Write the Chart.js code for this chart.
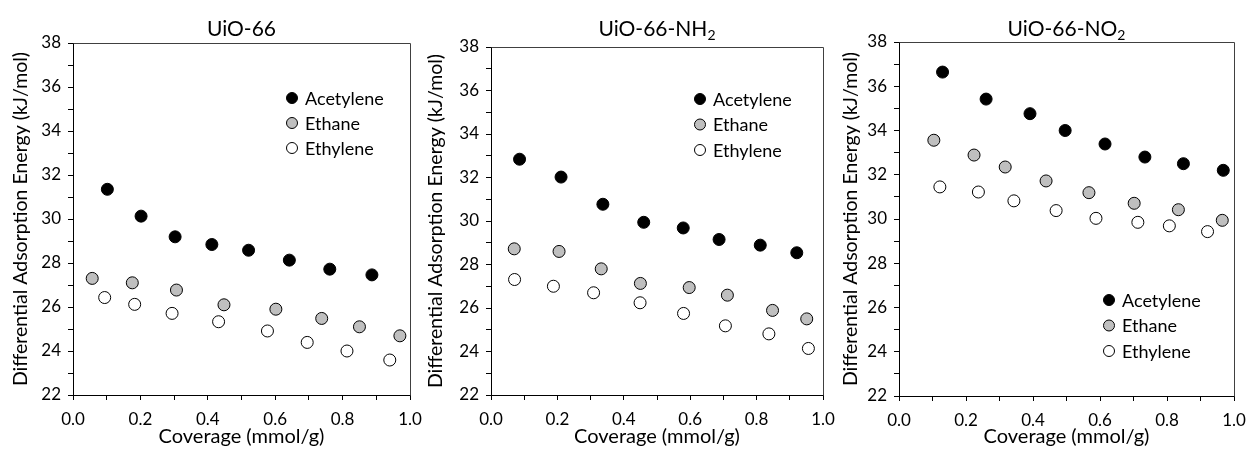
<!DOCTYPE html>
<html>
<head>
<meta charset="utf-8">
<script src="https://cdn.jsdelivr.net/npm/chart.js@4.4.1/dist/chart.umd.min.js"></script>
<style>
  body { margin: 0; background: #fff; }
  #wrap { position: relative; width: 1247px; height: 449px; overflow: hidden; }
  canvas { position: absolute; top: 0; }
</style>
</head>
<body>
<div id="wrap">
  <canvas id="c1" width="430" height="449" style="left:0px"></canvas>
  <canvas id="c2" width="430" height="449" style="left:415px"></canvas>
  <canvas id="c3" width="417" height="449" style="left:830px"></canvas>
</div>
<script>
// series names and fills
const seriesNames = ['Acetylene', 'Ethane', 'Ethylene'];
const seriesFills = ['#000000', '#bfbfbf', '#ffffff'];

// UiO-66
const uio66AcetyleneX = [0.102, 0.202, 0.303, 0.412, 0.521, 0.642, 0.762, 0.887];
const uio66AcetyleneY = [31.35, 30.13, 29.19, 28.84, 28.58, 28.13, 27.72, 27.46];
const uio66EthaneX = [0.057, 0.176, 0.307, 0.448, 0.602, 0.738, 0.850, 0.970];
const uio66EthaneY = [27.30, 27.10, 26.77, 26.10, 25.90, 25.48, 25.10, 24.69];
const uio66EthyleneX = [0.094, 0.183, 0.294, 0.432, 0.577, 0.695, 0.813, 0.940];
const uio66EthyleneY = [26.43, 26.12, 25.71, 25.33, 24.91, 24.39, 24.00, 23.59];

// UiO-66-NH2
const nh2AcetyleneX = [0.086, 0.211, 0.337, 0.460, 0.579, 0.687, 0.811, 0.921];
const nh2AcetyleneY = [32.84, 32.02, 30.77, 29.94, 29.68, 29.15, 28.89, 28.54];
const nh2EthaneX = [0.070, 0.205, 0.332, 0.450, 0.597, 0.712, 0.848, 0.951];
const nh2EthaneY = [28.72, 28.60, 27.80, 27.13, 26.94, 26.59, 25.89, 25.50];
const nh2EthyleneX = [0.071, 0.188, 0.309, 0.449, 0.580, 0.706, 0.837, 0.956];
const nh2EthyleneY = [27.31, 27.00, 26.70, 26.24, 25.75, 25.18, 24.81, 24.14];

// UiO-66-NO2
const no2AcetyleneX = [0.130, 0.260, 0.391, 0.496, 0.615, 0.734, 0.849, 0.968];
const no2AcetyleneY = [36.64, 35.42, 34.76, 34.00, 33.39, 32.80, 32.50, 32.20];
const no2EthaneX = [0.104, 0.224, 0.317, 0.439, 0.567, 0.702, 0.834, 0.965];
const no2EthaneY = [33.56, 32.89, 32.35, 31.72, 31.19, 30.71, 30.42, 29.94];
const no2EthyleneX = [0.122, 0.237, 0.343, 0.469, 0.588, 0.713, 0.807, 0.921];
const no2EthyleneY = [31.45, 31.22, 30.82, 30.38, 30.03, 29.85, 29.69, 29.43];

// axis ranges
const xMin = 0, xMax = 1, xStep = 0.1;
const yMin = 22, yMax = 38, yStep = 1;

const FONT = 'Lato, "Open Sans", sans-serif';
const PAD_LEFT = 5;

function toPoints(xs, ys) {
  return xs.map((x, i) => ({ x: x, y: ys[i] }));
}

// draws frame, title (with optional subscript) and legend
const panelDecor = {
  id: 'panelDecor',
  afterDraw(chart, args, opts) {
    const { ctx, chartArea: a } = chart;
    ctx.save();
    // top and right frame lines
    ctx.strokeStyle = '#404040';
    ctx.lineWidth = 1;
    ctx.beginPath();
    ctx.moveTo(Math.round(a.left) + 0.5, Math.round(a.top) + 0.5);
    ctx.lineTo(Math.round(a.right) + 0.5, Math.round(a.top) + 0.5);
    ctx.lineTo(Math.round(a.right) + 0.5, Math.round(a.bottom) + 0.5);
    ctx.stroke();

    // title
    ctx.fillStyle = '#000';
    ctx.textBaseline = 'alphabetic';
    ctx.font = '21px ' + FONT;
    const mainW = ctx.measureText(opts.title).width;
    let subW = 0;
    if (opts.sub) {
      ctx.font = '14px ' + FONT;
      subW = ctx.measureText(opts.sub).width;
    }
    const tx = (a.left + a.right) / 2 - (mainW + subW) / 2;
    ctx.font = '21px ' + FONT;
    ctx.textAlign = 'left';
    ctx.fillText(opts.title, tx, 36);
    if (opts.sub) {
      ctx.font = '14px ' + FONT;
      ctx.fillText(opts.sub, tx + mainW, 40);
    }

    // legend
    ctx.font = '18px ' + FONT;
    ctx.textBaseline = 'middle';
    chart.data.datasets.forEach((ds, i) => {
      const mx = a.left + opts.legendX;
      const my = a.top + opts.legendY + i * opts.legendGap;
      ctx.beginPath();
      ctx.arc(mx, my, 5.5, 0, Math.PI * 2);
      ctx.fillStyle = ds.pointBackgroundColor;
      ctx.fill();
      ctx.strokeStyle = '#000';
      ctx.lineWidth = 1;
      ctx.stroke();
      ctx.fillStyle = '#000';
      ctx.fillText(ds.label, mx + 13, my + 1);
    });
    ctx.restore();
  }
};

function makePanel(canvasId, title, sub, series, box, legend) {
  const datasets = series.map((s, i) => ({
    label: seriesNames[i],
    data: toPoints(s[0], s[1]),
    pointRadius: 6,
    pointBackgroundColor: seriesFills[i],
    pointBorderColor: '#000',
    pointBorderWidth: 1,
    showLine: false
  }));

  new Chart(document.getElementById(canvasId), {
    type: 'scatter',
    data: { datasets: datasets },
    plugins: [panelDecor],
    options: {
      responsive: false,
      animation: false,
      events: [],
      layout: { padding: { left: PAD_LEFT, right: box.right, top: box.top, bottom: 0 } },
      plugins: {
        legend: { display: false },
        tooltip: { enabled: false },
        panelDecor: { title: title, sub: sub, legendX: legend.x, legendY: legend.y, legendGap: legend.gap }
      },
      scales: {
        x: {
          type: 'linear',
          min: xMin,
          max: xMax,
          afterFit(scale) {
            scale.height = box.xHeight;
            scale.paddingLeft = 0;
            scale.paddingRight = 0;
          },
          border: { color: '#000', width: 1 },
          grid: { drawOnChartArea: false, drawTicks: true, tickLength: 5, color: '#000' },
          ticks: {
            stepSize: xStep,
            padding: 9,
            autoSkip: false,
            maxRotation: 0,
            color: '#000',
            font: { family: FONT, size: 17 },
            callback: v => (Math.round(v * 10) % 2 === 0 ? v.toFixed(1) : '')
          },
          title: {
            display: true,
            text: 'Coverage (mmol/g)',
            color: '#000',
            font: { family: FONT, size: 20 },
            padding: { top: 0, bottom: 0 }
          }
        },
        y: {
          type: 'linear',
          min: yMin,
          max: yMax,
          afterFit(scale) {
            scale.width = box.left - PAD_LEFT;
            scale.paddingTop = 0;
            scale.paddingBottom = 0;
          },
          border: { color: '#000', width: 1 },
          grid: { drawOnChartArea: false, drawTicks: true, tickLength: 5, color: '#000' },
          ticks: {
            stepSize: yStep,
            padding: 7,
            autoSkip: false,
            color: '#000',
            font: { family: FONT, size: 17 },
            callback: v => (v % 2 === 0 ? String(v) : '')
          },
          title: {
            display: true,
            text: 'Differential Adsorption Energy (kJ/mol)',
            color: '#000',
            font: { family: FONT, size: 19.5 },
            padding: { top: 4, bottom: 0 }
          }
        }
      }
    }
  });
}

makePanel('c1', 'UiO-66', '',
  [[uio66AcetyleneX, uio66AcetyleneY], [uio66EthaneX, uio66EthaneY], [uio66EthyleneX, uio66EthyleneY]],
  { left: 73, right: 20, top: 43, xHeight: 54 },
  { x: 219, y: 55, gap: 25 });

makePanel('c2', 'UiO-66-NH', '2',
  [[nh2AcetyleneX, nh2AcetyleneY], [nh2EthaneX, nh2EthaneY], [nh2EthyleneX, nh2EthyleneY]],
  { left: 76, right: 22, top: 47, xHeight: 54 },
  { x: 209, y: 52, gap: 25.5 });

makePanel('c3', 'UiO-66-NO', '2',
  [[no2AcetyleneX, no2AcetyleneY], [no2EthaneX, no2EthaneY], [no2EthyleneX, no2EthyleneY]],
  { left: 69, right: 13, top: 42, xHeight: 53 },
  { x: 210, y: 258, gap: 25.5 });
</script>
</body>
</html>
